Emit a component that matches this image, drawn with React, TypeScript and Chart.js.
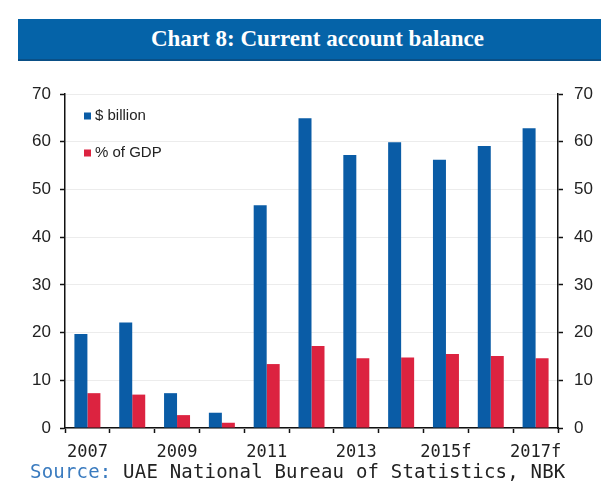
import React, { useEffect, useRef } from "react";
import { Chart, registerables } from "chart.js";

Chart.register(...registerables);

const categories = ["2007", "2008", "2009", "2010", "2011", "2012", "2013", "2014", "2015f", "2016f", "2017f"];
const usdBillion = [19.7, 22.1, 7.3, 3.2, 46.7, 64.9, 57.2, 59.9, 56.2, 59.1, 62.8];
const pctOfGdp = [7.3, 7.0, 2.7, 1.1, 13.4, 17.2, 14.6, 14.8, 15.5, 15.1, 14.6];
const seriesNames = ["$ billion", "% of GDP"];
const yTicks = [0, 10, 20, 30, 40, 50, 60, 70];

const BLUE = "#0a5ca6";
const RED = "#dc2340";
const TEXT = "#222222";

const legendPlugin = {
  id: "insideLegend",
  afterDraw(chart: any) {
    const { ctx, chartArea } = chart;
    ctx.save();
    ctx.font = "15px 'Liberation Sans', Arial, sans-serif";
    ctx.textBaseline = "middle";
    chart.data.datasets.forEach((ds: any, i: number) => {
      const x = chartArea.left + 19;
      const y = chartArea.top + 22 + i * 37;
      ctx.fillStyle = ds.backgroundColor;
      ctx.fillRect(x, y - 3.5, 7, 7);
      ctx.fillStyle = TEXT;
      ctx.fillText(ds.label, x + 11, y);
    });
    ctx.restore();
  },
};

export default function App() {
  const ref = useRef<HTMLCanvasElement | null>(null);

  useEffect(() => {
    if (!ref.current) return;
    const tickFont = { family: "'Liberation Sans', Arial, sans-serif", size: 17 };
    const chart = new Chart(ref.current, {
      type: "bar",
      data: {
        labels: categories,
        datasets: [
          { label: seriesNames[0], data: usdBillion, backgroundColor: BLUE, categoryPercentage: 0.58, barPercentage: 1.0, yAxisID: "y" },
          { label: seriesNames[1], data: pctOfGdp, backgroundColor: RED, categoryPercentage: 0.58, barPercentage: 1.0, yAxisID: "y" },
        ],
      },
      options: {
        responsive: false,
        animation: false,
        layout: { padding: { top: 94, left: 0, right: 0, bottom: 0 } },
        plugins: { legend: { display: false }, tooltip: { enabled: false }, title: { display: false } },
        scales: {
          x: {
            type: "category",
            offset: true,
            grid: { offset: true, drawOnChartArea: false, drawTicks: true, tickLength: 5, tickColor: "#111", tickWidth: 1.5 },
            border: { display: true, color: "#111", width: 1.5 },
            ticks: {
              autoSkip: false,
              maxRotation: 0,
              minRotation: 0,
              padding: 9,
              color: TEXT,
              font: { family: "'DejaVu Sans Mono', monospace", size: 17 },
              callback: (_v: any, i: number) => (i % 2 === 0 ? categories[i] : ""),
            },
            afterFit: (s: any) => { s.height = 64; },
          },
          y: {
            position: "left",
            min: 0,
            max: 70,
            afterBuildTicks: (s: any) => { s.ticks = yTicks.map((v) => ({ value: v })); },
            grid: { color: "#ececec", lineWidth: 1, drawTicks: true, tickLength: 5, tickColor: "#111", tickWidth: 1.5 },
            border: { display: true, color: "#111", width: 1.5 },
            ticks: { color: TEXT, font: tickFont, padding: 9 },
            afterFit: (s: any) => { s.width = 65; },
          },
          y2: {
            position: "right",
            min: 0,
            max: 70,
            afterBuildTicks: (s: any) => { s.ticks = yTicks.map((v) => ({ value: v })); },
            grid: { drawOnChartArea: false, drawTicks: true, tickLength: 5, tickColor: "#111", tickWidth: 1.5 },
            border: { display: true, color: "#111", width: 1.5 },
            ticks: { color: TEXT, font: tickFont, padding: 11 },
            afterFit: (s: any) => { s.width = 43; },
          },
        },
      },
      plugins: [legendPlugin],
    });
    return () => chart.destroy();
  }, []);

  return (
    <div style={{ position: "absolute", left: 0, top: 0, width: 601, height: 492, background: "#fff", overflow: "hidden" }}>
      <div
        style={{
          position: "absolute",
          left: 18,
          top: 19,
          width: 583,
          height: 42,
          background: "#0563a8",
          borderBottom: "2px solid #0a4f86",
          boxSizing: "border-box",
          color: "#fff",
          fontFamily: "'Liberation Serif', 'Times New Roman', serif",
          fontWeight: "bold",
          fontSize: 23,
          display: "flex",
          alignItems: "center",
          justifyContent: "center",
          paddingLeft: 16,
        }}
      >
        Chart 8: Current account balance
      </div>
      <canvas ref={ref} width={601} height={492} style={{ position: "absolute", left: 0, top: 0, width: 601, height: 492 }} />
      <div
        style={{
          position: "absolute",
          left: 30,
          top: 459,
          fontFamily: "'DejaVu Sans Mono', monospace",
          fontSize: 19,
          letterSpacing: "0.2px",
          lineHeight: "24px",
          color: TEXT,
          whiteSpace: "nowrap",
        }}
      >
        <span style={{ color: "#3a7bbf" }}>Source:</span> UAE National Bureau of Statistics, NBK
      </div>
    </div>
  );
}
